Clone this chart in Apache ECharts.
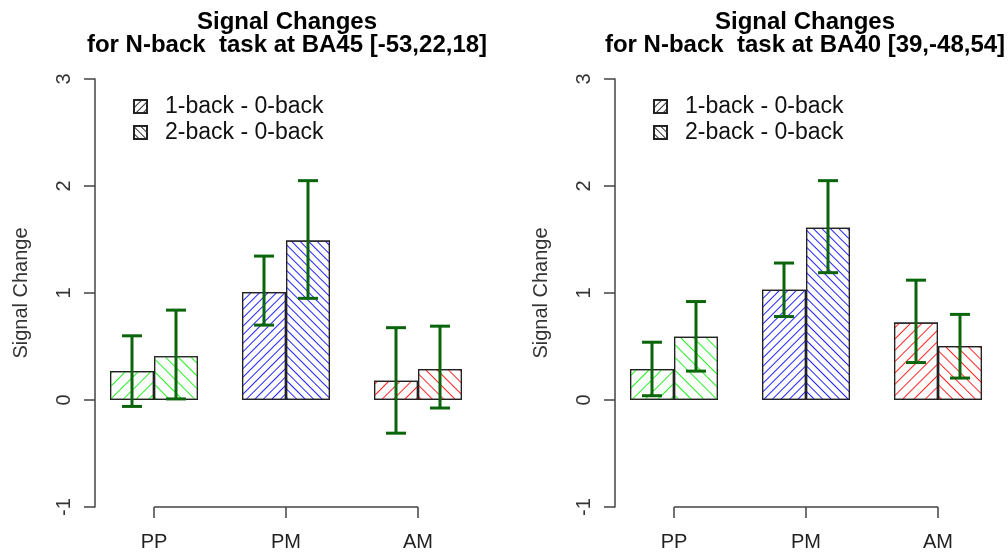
<!DOCTYPE html>
<html>
<head>
<meta charset="utf-8">
<script src="https://cdn.jsdelivr.net/npm/echarts@6/dist/echarts.min.js"></script>
<style>html,body{margin:0;padding:0;background:#fff;}#c{width:1008px;height:554px;}</style>
</head>
<body>
<div id="c"></div>
<script>
// ---- data ----
const categories = ['PP', 'PM', 'AM'];
const seriesNames = ['1-back - 0-back', '2-back - 0-back'];
const yTicks = [-1, 0, 1, 2, 3];
const titleLeft = 'Signal Changes\nfor N-back  task at BA45 [-53,22,18]';
const titleRight = 'Signal Changes\nfor N-back  task at BA40 [39,-48,54]';

// left panel (BA45)
const ba45One = [0.27, 1.01, 0.18];
const ba45OneLow = [-0.06, 0.70, -0.31];
const ba45OneHigh = [0.60, 1.345, 0.676];
const ba45Two = [0.41, 1.49, 0.29];
const ba45TwoLow = [0.01, 0.95, -0.075];
const ba45TwoHigh = [0.84, 2.05, 0.69];

// right panel (BA40)
const ba40One = [0.29, 1.03, 0.725];
const ba40OneLow = [0.04, 0.78, 0.35];
const ba40OneHigh = [0.54, 1.28, 1.12];
const ba40Two = [0.59, 1.61, 0.505];
const ba40TwoLow = [0.27, 1.19, 0.205];
const ba40TwoHigh = [0.92, 2.05, 0.80];

// ---- styles ----
const groupColors = ['#22ee22', '#2222ff', '#ff2222'];
const hatchGap = [8, 4.5, 6.5];
const FONT = 'Liberation Sans, Arial, sans-serif';
const AXIS_COLOR = '#444';
const ERR_COLOR = '#0b650b';

function decal(color, gap, dir) {
  return {
    symbol: 'rect', symbolSize: 1, color: color,
    dashArrayX: [1, 0], dashArrayY: [1, gap],
    rotation: dir * Math.PI / 4
  };
}

function barSeries(name, values, dir, axisIdx) {
  return {
    type: 'bar', name: name, xAxisIndex: axisIdx, yAxisIndex: axisIdx,
    barGap: '0%', barCategoryGap: '33.33%',
    itemStyle: { color: '#fff', borderColor: '#222', borderWidth: 1.2, decal: decal('#333', 4, dir) },
    data: values.map((v, i) => ({
      value: v,
      itemStyle: { color: '#fff', borderColor: '#222', borderWidth: 1.2, decal: decal(groupColors[i], hatchGap[i], dir) }
    })),
    z: 2, silent: true
  };
}

function errSeries(low, high, sign, axisIdx) {
  return {
    type: 'custom', xAxisIndex: axisIdx, yAxisIndex: axisIdx, z: 5, silent: true,
    encode: { x: 0, y: [1, 2] },
    data: categories.map((c, i) => [i, low[i], high[i]]),
    renderItem: function (params, api) {
      const x = api.value(0);
      const pLo = api.coord([x, api.value(1)]);
      const pHi = api.coord([x, api.value(2)]);
      const band = api.size([1, 0])[0];
      const cx = pLo[0] + sign * band / 6;
      const hw = 10;
      const st = { stroke: ERR_COLOR, lineWidth: 3 };
      return {
        type: 'group',
        children: [
          { type: 'line', shape: { x1: cx, y1: pLo[1], x2: cx, y2: pHi[1] }, style: st },
          { type: 'line', shape: { x1: cx - hw, y1: pLo[1], x2: cx + hw, y2: pLo[1] }, style: st },
          { type: 'line', shape: { x1: cx - hw, y1: pHi[1], x2: cx + hw, y2: pHi[1] }, style: st }
        ]
      };
    }
  };
}

function baseLine(axisIdx) {
  return {
    type: 'line', xAxisIndex: axisIdx, yAxisIndex: axisIdx, data: categories.map(() => yTicks[0]),
    symbol: 'none', clip: false, silent: true, z: 1,
    lineStyle: { color: AXIS_COLOR, width: 1.5 }
  };
}

const grids = [
  { left: 88, width: 396, top: 79, height: 428 },
  { left: 608, width: 396, top: 79, height: 428 }
];

function xAx(i) {
  return {
    type: 'category', gridIndex: i, data: categories,
    axisLine: { show: false, onZero: false },
    axisTick: { show: true, alignWithLabel: true, length: 11, lineStyle: { color: AXIS_COLOR, width: 1.5 } },
    axisLabel: { fontSize: 20, margin: 25, color: '#222', fontFamily: FONT },
    splitLine: { show: false }
  };
}
function yAx(i) {
  return {
    type: 'value', gridIndex: i, min: yTicks[0], max: yTicks[yTicks.length - 1], interval: 1,
    offset: -7,
    name: 'Signal Change', nameLocation: 'middle', nameGap: 64, nameRotate: 90,
    nameTextStyle: { fontSize: 20, color: '#333', fontFamily: FONT },
    axisLine: { show: true, onZero: false, lineStyle: { color: AXIS_COLOR, width: 1.5 } },
    axisTick: { show: true, length: 11, lineStyle: { color: AXIS_COLOR, width: 1.5 } },
    axisLabel: { rotate: 90, fontSize: 20, margin: 21, color: '#333', fontFamily: FONT },
    splitLine: { show: false }
  };
}
function legend(left) {
  return {
    orient: 'vertical', left: left, top: 90, itemWidth: 13, itemHeight: 13, itemGap: 3,
    icon: 'rect',
    data: seriesNames, selectedMode: false,
    textStyle: { fontSize: 23, lineHeight: 22, color: '#111', fontFamily: FONT, padding: [0, 0, 0, 13] }
  };
}

const chart = echarts.init(document.getElementById('c'), null, { renderer: 'canvas' });
chart.setOption({
  animation: false,
  backgroundColor: '#fff',
  title: [
    { text: titleLeft, left: 282, top: 6, textAlign: 'center',
      textStyle: { fontSize: 24, fontWeight: 'bold', lineHeight: 23, color: '#000', fontFamily: FONT } },
    { text: titleRight, left: 800, top: 6, textAlign: 'center',
      textStyle: { fontSize: 24, fontWeight: 'bold', lineHeight: 23, color: '#000', fontFamily: FONT } }
  ],
  legend: [legend(128), legend(648)],
  grid: grids,
  xAxis: [xAx(0), xAx(1)],
  yAxis: [yAx(0), yAx(1)],
  series: [
    barSeries(seriesNames[0], ba45One, -1, 0),
    barSeries(seriesNames[1], ba45Two, 1, 0),
    errSeries(ba45OneLow, ba45OneHigh, -1, 0),
    errSeries(ba45TwoLow, ba45TwoHigh, 1, 0),
    baseLine(0),
    barSeries(seriesNames[0], ba40One, -1, 1),
    barSeries(seriesNames[1], ba40Two, 1, 1),
    errSeries(ba40OneLow, ba40OneHigh, -1, 1),
    errSeries(ba40TwoLow, ba40TwoHigh, 1, 1),
    baseLine(1)
  ]
});
</script>
</body>
</html>
